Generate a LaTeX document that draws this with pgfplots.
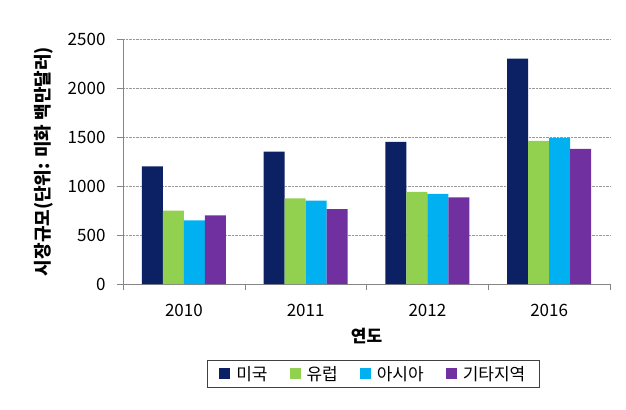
\documentclass[border=0pt]{standalone}
\usepackage{pgfplots}
\pgfplotsset{compat=1.18}
\usepackage{fontspec}
\setmainfont{Noto Sans CJK KR}
\definecolor{cNavy}{HTML}{0C2163}
\definecolor{cGreen}{HTML}{92D050}
\definecolor{cCyan}{HTML}{00B0F0}
\definecolor{cPurple}{HTML}{7030A0}
\definecolor{cAxis}{HTML}{868686}
\begin{document}
\begin{tikzpicture}
\useasboundingbox (-123bp,-126bp) rectangle (503bp,284bp);
\begin{axis}[
  at={(0,0)}, anchor=south west,
  scale only axis, width=487bp, height=245bp,
  ybar=0pt, bar width=0.1725,
  xmin=-0.5, xmax=3.5, ymin=0, ymax=2500,
  xtick={0,1,2,3}, xticklabels={2010,2011,2012,2016},
  minor xtick={-0.5,0.5,1.5,2.5,3.5},
  ytick={0,500,...,2500},
  axis lines*=left,
  axis line style={draw=cAxis},
  tick align=outside,
  tick style={draw=cAxis},
  major x tick style={draw=none},
  major tick length=6bp, minor tick length=6bp,
  ymajorgrids, grid style={densely dotted, draw=gray!80},
  /pgf/number format/assume math mode=true,
  /pgf/number format/1000 sep={},
  tick label style={font=\fontsize{17bp}{20bp}\selectfont},
  xticklabel style={yshift=-11bp},
  yticklabel style={xshift=-8bp},
  ylabel={시장규모(단위: 미화 백만달러)},
  xlabel={연도},
  every axis y label/.style={at={(axis description cs:-0.162,0.5)}, rotate=90, anchor=center,
    font=\bfseries\fontsize{18bp}{21bp}\selectfont},
  every axis x label/.style={at={(axis description cs:0.5,-0.212)}, anchor=center,
    font=\bfseries\fontsize{17bp}{20bp}\selectfont},
  legend columns=4,
  legend image code/.code={\fill[#1, draw=none] (0bp,-5bp) rectangle (11bp,6bp);},
  legend style={at={(axis description cs:0.514,-0.31)}, anchor=north,
    draw=black!75, font=\fontsize{17bp}{20bp}\selectfont,
    inner xsep=12bp, inner ysep=4bp,
    /tikz/every odd column/.append style={column sep=4bp},
    /tikz/every even column/.append style={column sep=20bp}},
]
\addplot[fill=cNavy, draw=none] coordinates {(0,1200) (1,1350) (2,1450) (3,2300)};
\addplot[fill=cGreen, draw=none] coordinates {(0,750) (1,875) (2,940) (3,1460)};
\addplot[fill=cCyan, draw=none] coordinates {(0,650) (1,850) (2,920) (3,1490)};
\addplot[fill=cPurple, draw=none] coordinates {(0,700) (1,765) (2,885) (3,1380)};
\legend{미국,유럽,아시아,기타지역}
\end{axis}
\end{tikzpicture}
\end{document}
